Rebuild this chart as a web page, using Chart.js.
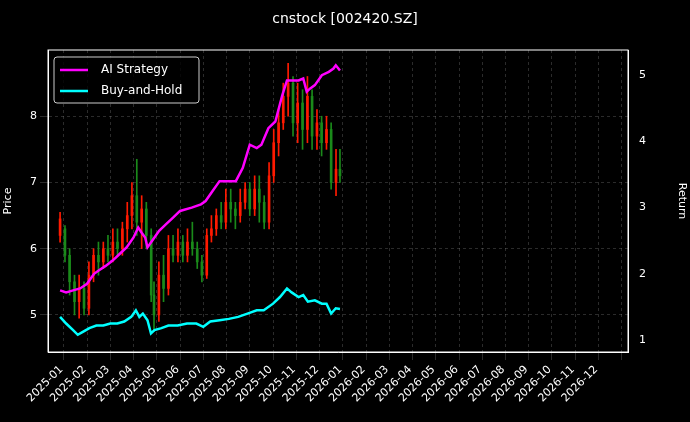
<!DOCTYPE html>
<html><head><meta charset="utf-8">
<script src="https://cdn.jsdelivr.net/npm/chart.js@4"></script>
<style>html,body{margin:0;background:#000}canvas{display:block}</style>
</head><body>
<div style="width:690px;height:422px"><canvas id="c"></canvas></div>
<script>
// month index: 0 = 2025-01
const candleT = [-0.66,-0.45,-0.25,-0.04,0.16,0.37,0.58,0.78,0.99,1.20,1.40,1.61,1.81,2.02,2.23,2.43,2.64,2.85,3.05,3.26,3.38,3.59,3.79,4.00,4.20,4.41,4.62,4.82,5.03,5.24,5.44,5.65,5.85,6.06,6.27,6.47,6.68,6.88,7.09,7.30,7.50,7.71,7.91,8.12,8.33,8.53,8.74,8.94,9.15,9.36,9.56,9.77,9.98,10.18,10.39,10.59,10.80,11.00,11.21,11.38];
const candleO = [6.2,6.3,5.9,5.5,5.2,5.4,5.1,5.6,5.9,5.8,6.0,5.9,6.1,6.0,6.3,6.5,6.8,6.4,6.6,6.2,5.3,5.0,5.6,5.4,6.0,5.9,6.1,5.9,6.1,6.0,5.8,5.6,6.2,6.3,6.5,6.4,6.7,6.6,6.5,6.7,6.9,6.6,6.9,6.7,6.4,7.1,7.6,7.9,8.3,8.5,7.9,8.2,7.8,8.3,7.7,7.9,7.6,7.8,7.0,7.2];
const candleC = [6.45,5.9,5.5,5.2,5.4,5.1,5.6,5.9,5.8,6.0,5.9,6.1,6.0,6.3,6.5,6.8,6.4,6.6,6.2,5.3,5.0,5.6,5.4,6.0,5.9,6.1,5.9,6.1,6.0,5.8,5.6,6.2,6.3,6.5,6.4,6.7,6.6,6.5,6.7,6.9,6.6,6.9,6.7,6.4,7.1,7.6,7.9,8.3,8.5,7.9,8.2,7.8,8.3,7.7,7.9,7.6,7.8,7.0,7.2,7.1];
const candleH = [6.55,6.35,6.0,5.6,5.6,5.5,5.8,6.0,6.1,6.1,6.2,6.3,6.3,6.4,6.7,7.0,7.35,6.8,6.7,6.3,5.5,5.8,5.9,6.2,6.2,6.3,6.2,6.3,6.4,6.1,5.9,6.3,6.5,6.6,6.7,6.9,6.9,6.7,6.9,7.0,7.0,7.1,7.1,6.8,7.3,7.8,8.1,8.5,8.8,8.6,8.5,8.4,8.6,8.4,8.1,8.0,8.0,7.9,7.5,7.5];
const candleL = [6.1,5.8,5.3,5.0,4.95,5.0,5.0,5.5,5.6,5.7,5.8,5.8,5.9,5.9,6.1,6.3,6.2,6.0,6.0,5.2,4.75,4.9,5.2,5.3,5.8,5.8,5.8,5.8,5.9,5.7,5.5,5.55,6.1,6.2,6.3,6.3,6.4,6.3,6.4,6.6,6.5,6.5,6.4,6.3,6.3,7.0,7.4,7.8,8.0,7.7,7.6,7.5,7.6,7.5,7.5,7.4,7.5,6.9,6.8,7.0];

const aiT = [-0.66,-0.4,-0.1,0.2,0.5,0.8,1.0,1.3,1.6,1.9,2.2,2.5,2.7,2.85,3.0,3.1,3.3,3.6,3.9,4.2,4.5,5.0,5.4,5.6,5.9,6.2,6.5,6.9,7.2,7.5,7.8,8.0,8.3,8.6,8.9,9.1,9.4,9.6,9.8,9.95,10.1,10.3,10.6,10.9,11.1,11.2,11.38];
const aiV = [1.75,1.72,1.75,1.78,1.85,2.0,2.05,2.12,2.2,2.3,2.4,2.55,2.7,2.62,2.55,2.4,2.5,2.65,2.75,2.85,2.95,3.0,3.05,3.1,3.25,3.4,3.4,3.4,3.6,3.95,3.9,3.95,4.2,4.3,4.7,4.92,4.92,4.92,4.95,4.75,4.8,4.85,5.0,5.05,5.1,5.15,5.07];
const bhT = [-0.66,-0.4,-0.1,0.1,0.3,0.6,0.9,1.2,1.5,1.8,2.1,2.4,2.6,2.75,2.9,3.1,3.25,3.4,3.7,4.0,4.4,4.8,5.2,5.5,5.8,6.2,6.6,7.0,7.4,7.8,8.1,8.5,8.8,9.1,9.3,9.6,9.8,10.0,10.3,10.6,10.8,11.0,11.2,11.38];
const bhV = [1.35,1.25,1.15,1.08,1.12,1.18,1.22,1.22,1.25,1.25,1.28,1.35,1.45,1.35,1.4,1.3,1.1,1.15,1.18,1.22,1.22,1.25,1.25,1.2,1.28,1.3,1.32,1.35,1.4,1.45,1.45,1.55,1.65,1.78,1.72,1.65,1.68,1.58,1.6,1.55,1.55,1.4,1.48,1.47];

const priceTicks = [5, 6, 7, 8];
const returnTicks = [1, 2, 3, 4, 5];
const seriesNames = ['AI Strategy', 'Buy-and-Hold'];
const seriesColors = ['#ff00ff', '#00ffff'];

const up = (i) => candleC[i] >= candleO[i];
const candleColor = candleT.map((t, i) => up(i) ? '#ff1a00' : '#1a8a1a');

const grid = { color: 'rgba(160,160,160,0.45)', lineWidth: 0.6 };
const border = { color: '#fff', dash: [3, 3] };
const tickFont = { family: 'DejaVu Sans', size: 11 };

const overlay = {
    id: 'overlay',
    afterDraw(ch) {
        const c = ch.ctx, a = ch.chartArea;
        c.save();
        c.fillStyle = '#fff';
        c.font = '14px DejaVu Sans';
        c.textAlign = 'center';
        c.fillText('cnstock [002420.SZ]', 345, 23);
        // legend box
        c.fillStyle = 'rgba(0,0,0,0.8)';
        c.strokeStyle = '#ccc';
        c.lineWidth = 1;
        c.beginPath();
        c.roundRect(a.left + 6, a.top + 7, 145, 46, 3);
        c.fill(); c.stroke();
        c.font = '12px DejaVu Sans';
        c.textAlign = 'left';
        c.textBaseline = 'middle';
        seriesNames.forEach((n, i) => {
            const y = a.top + 20 + i * 21;
            c.strokeStyle = seriesColors[i];
            c.lineWidth = 2.5;
            c.beginPath(); c.moveTo(a.left + 12, y); c.lineTo(a.left + 40, y); c.stroke();
            c.fillStyle = '#fff';
            c.fillText(n, a.left + 53, y);
        });
        // frame
        c.strokeStyle = '#fff';
        c.lineWidth = 1;
        c.strokeRect(a.left, a.top, a.right - a.left, a.bottom - a.top);
        c.restore();
    }
};

new Chart(document.getElementById('c'), {
    type: 'bar',
    data: {
        datasets: [
            {
                label: 'wick', yAxisID: 'y', order: 3,
                data: candleT.map((t, i) => ({ x: t, y: [candleL[i], candleH[i]] })),
                backgroundColor: candleColor, barThickness: 1, grouped: false,
            },
            {
                label: 'body', yAxisID: 'y', order: 2,
                data: candleT.map((t, i) => ({ x: t, y: [Math.min(candleO[i], candleC[i]), Math.max(candleO[i], candleC[i])] })),
                backgroundColor: candleColor, barThickness: 2, grouped: false,
            },
            {
                type: 'line', label: seriesNames[0], yAxisID: 'y1', order: 1,
                data: aiT.map((t, i) => ({ x: t, y: aiV[i] })),
                borderColor: seriesColors[0], borderWidth: 2.5, pointRadius: 0, tension: 0,
            },
            {
                type: 'line', label: seriesNames[1], yAxisID: 'y1', order: 0,
                data: bhT.map((t, i) => ({ x: t, y: bhV[i] })),
                borderColor: seriesColors[1], borderWidth: 2.5, pointRadius: 0, tension: 0,
            },
        ],
    },
    options: {
        responsive: true, maintainAspectRatio: false, animation: false,
        layout: { padding: { top: 50, left: 0, right: 0 } },
        plugins: { legend: { display: false }, tooltip: { enabled: false } },
        scales: {
            x: {
                type: 'linear', min: -0.66, max: 23.25,
                grid, border,
                afterFit: s => { s.height = 70; },
                afterBuildTicks: s => { s.ticks = Array.from({ length: 24 }, (_, i) => ({ value: i })); },
                ticks: {
                    color: '#fff', font: tickFont, maxRotation: 45, minRotation: 45, autoSkip: false,
                    labelOffset: -14,
                    callback: v => (2025 + Math.floor(v / 12)) + '-' + String(v % 12 + 1).padStart(2, '0'),
                },
            },
            y: {
                position: 'left', min: 4.44, max: 9.0,
                grid, border,
                afterFit: s => { s.width = 48; },
                afterBuildTicks: s => { s.ticks = priceTicks.map(v => ({ value: v })); },
                ticks: { color: '#fff', font: tickFont },
                title: { display: true, text: 'Price', color: '#fff', font: tickFont, padding: 2 },
            },
            y1: {
                position: 'right', min: 0.82, max: 5.38,
                grid: { display: false }, border: { color: '#fff' },
                afterFit: s => { s.width = 62; },
                afterBuildTicks: s => { s.ticks = returnTicks.map(v => ({ value: v })); },
                ticks: { color: '#fff', font: tickFont },
                title: { display: true, text: 'Return', color: '#fff', font: tickFont, padding: 2 },
            },
        },
    },
    plugins: [overlay],
});
</script>
</body></html>
